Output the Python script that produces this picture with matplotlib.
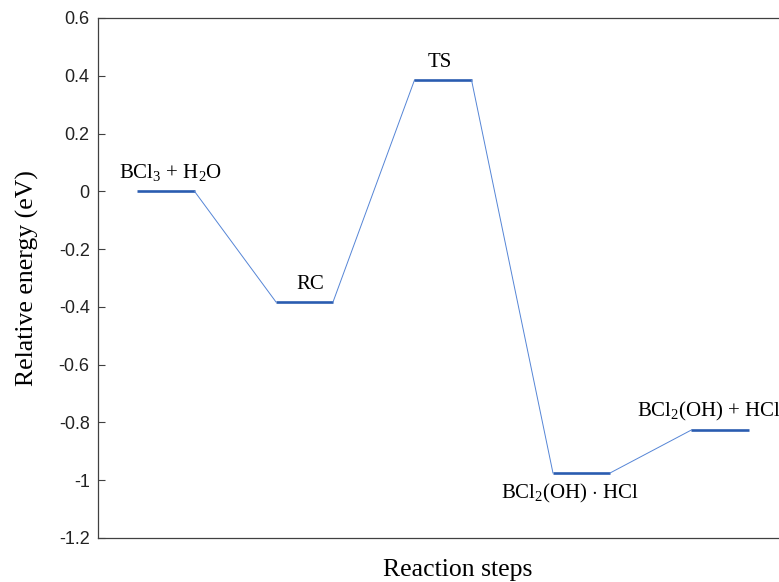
import matplotlib
matplotlib.use("Agg")
import matplotlib.pyplot as plt

# 反応エネルギー図のデータ
states = [r"BCl$_3$ + H$_2$O", "RC", "TS", r"BCl$_2$(OH) $\cdot$ HCl", r"BCl$_2$(OH) + HCl"]
energy = [0.0, -0.383, 0.385, -0.975, -0.826]
step = [1, 2, 3, 4, 5]
label_above = [True, True, True, False, True]
label_dx = [0.036, 0.04, -0.025, -0.083, -0.08]  # ラベルの横ずれ

half = 0.206  # レベル線の半幅
px = 138.5    # 1ステップあたりのピクセル

plt.rcParams["mathtext.fontset"] = "custom"
plt.rcParams["mathtext.rm"] = "Liberation Serif"
plt.rcParams["mathtext.it"] = "Liberation Serif:italic"

fig = plt.figure(figsize=(7.79, 5.82), dpi=100)
ax = fig.add_axes([98 / 779, 44 / 582, 720 / 779, 520 / 582])

lvl_color = "#2a5cb0"
link_color = "#5585d6"

for i in range(len(step)):
    x0 = step[i] - half
    x1 = step[i] + half
    ax.plot([x0, x1], [energy[i], energy[i]], color=lvl_color, lw=1.9, solid_capstyle="butt")
    if i < len(step) - 1:
        ax.plot([x1, step[i + 1] - half], [energy[i], energy[i + 1]], color=link_color, lw=0.7)
    if label_above[i]:
        ax.text(step[i] + label_dx[i], energy[i] + 0.045, states[i], ha="center", va="baseline",
                fontsize=15, family="Liberation Serif")
    else:
        ax.text(step[i] + label_dx[i], energy[i] - 0.03, states[i], ha="center", va="top",
                fontsize=15, family="Liberation Serif")

ax.set_xlim(1 - 68 / px, 1 - 68 / px + 720 / px)
ax.set_ylim(-1.2, 0.6)
ax.set_yticks([-1.2, -1.0, -0.8, -0.6, -0.4, -0.2, 0, 0.2, 0.4, 0.6])
ax.set_yticklabels(["-1.2", "-1", "-0.8", "-0.6", "-0.4", "-0.2", "0", "0.2", "0.4", "0.6"],
                   family="Liberation Sans", fontsize=13, color="#222222")
ax.set_xticks([])
ax.tick_params(axis="y", direction="in", length=5, width=0.8, color="#404040", pad=6)
for s in ax.spines.values():
    s.set_color("#404040")
    s.set_linewidth(0.9)

ax.set_ylabel("Relative energy (eV)", family="Liberation Serif", fontsize=18.5, labelpad=14)
ax.set_xlabel("Reaction steps", family="Liberation Serif", fontsize=18.5, labelpad=15)

fig.savefig("out.png", dpi=100)
